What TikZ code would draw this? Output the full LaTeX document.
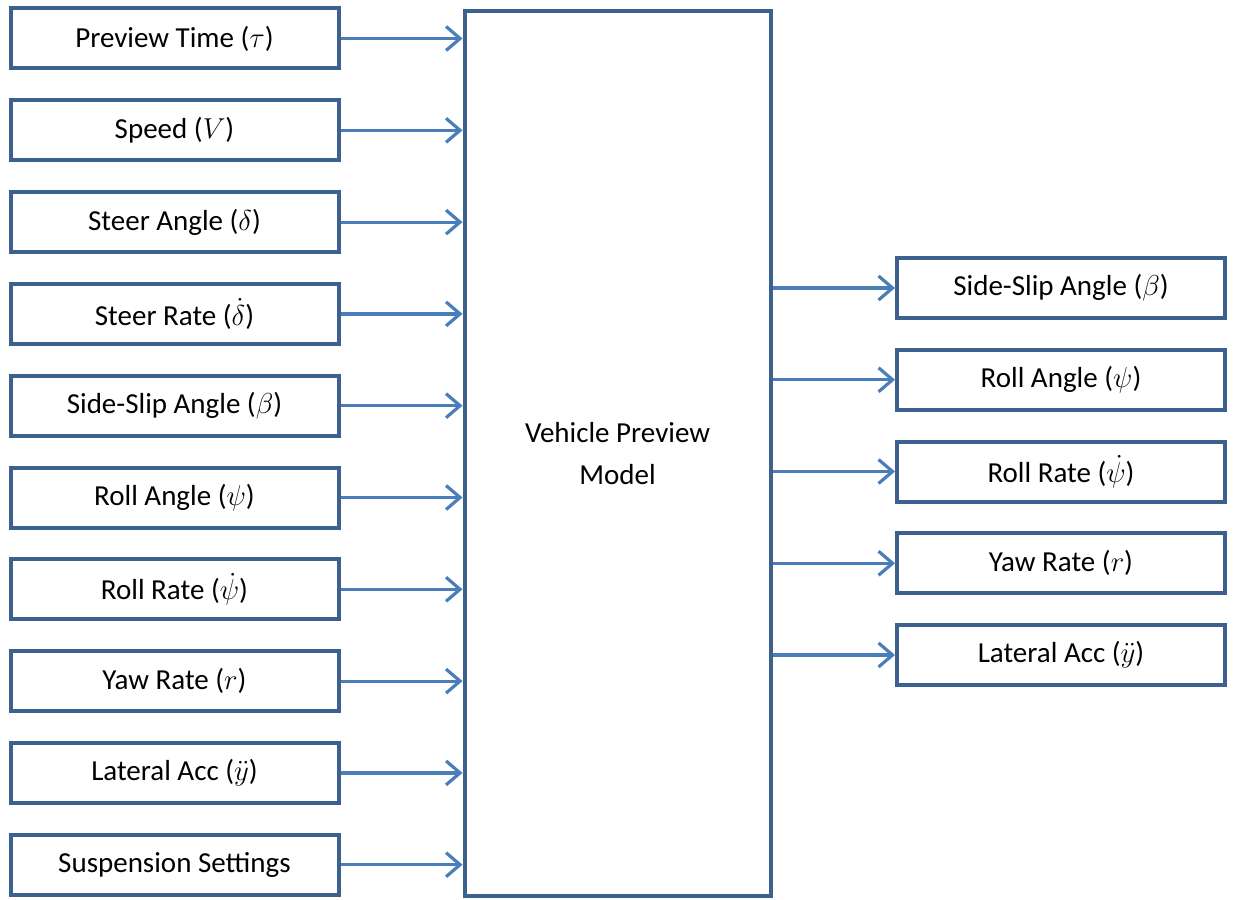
\documentclass[tikz,border=0pt]{standalone}
\usepackage{amsmath}
\usepackage{fontspec}
\setmainfont{Carlito}
\usetikzlibrary{arrows.meta, positioning}
\definecolor{boxblue}{HTML}{3C6090}
\definecolor{arrowblue}{HTML}{4A7EBB}

\begin{document}
\begin{tikzpicture}[x=0.5pt, y=-0.5pt, >={Straight Barb[length=7pt, width=12pt]},
    blk/.style={draw=boxblue, line width=2pt, minimum width=164pt, minimum height=30pt,
        inner sep=0pt, font=\fontsize{14.5}{17}\selectfont},
    flow/.style={->, draw=arrowblue, line width=1.6pt}]
    \useasboundingbox (0,0) rectangle (1236,899);
    % 1. Khoi mo hinh o giua
    \node[blk, minimum width=153pt, minimum height=442pt, align=center,
        font=\fontsize{14.5}{21}\selectfont] (model) at (617.5,453.5) {Vehicle Preview\\Model};

    % 2. Cac dau vao ben trai
    \foreach \name [count=\i] in {{Preview Time ($\tau$)}, {Speed ($V$)}, {Steer Angle ($\delta$)},
        {Steer Rate ($\dot{\delta}$)}, {Side-Slip Angle ($\beta$)}, {Roll Angle ($\psi$)},
        {Roll Rate ($\dot{\psi}$)}, {Yaw Rate ($r$)}, {Lateral Acc ($\ddot{y}$)}, {Suspension Settings}} {
        \node[blk] (in\i) at (174.5, {38.5+91.8*(\i-1)}) {\name};
        \draw[flow] (in\i.east) -- (in\i.east -| model.west);
    }

    % 3. Cac dau ra ben phai
    \foreach \name [count=\i] in {{Side-Slip Angle ($\beta$)}, {Roll Angle ($\psi$)},
        {Roll Rate ($\dot{\psi}$)}, {Yaw Rate ($r$)}, {Lateral Acc ($\ddot{y}$)}} {
        \node[blk] (out\i) at (1061, {288+91.75*(\i-1)}) {\name};
        \draw[flow] (out\i.west -| model.east) -- (out\i.west);
    }
\end{tikzpicture}
\end{document}
